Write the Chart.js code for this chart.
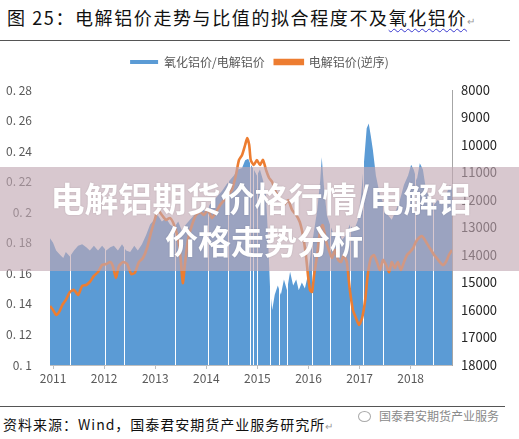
<!DOCTYPE html>
<html>
<head>
<meta charset="utf-8">
<script src="https://cdn.jsdelivr.net/npm/chart.js@4/dist/chart.umd.min.js"></script>
<style>
  body { margin: 0; background: #fff; width: 519px; height: 439px; overflow: hidden; position: relative; font-family: "Noto Sans CJK SC", sans-serif; }
  #title { position: absolute; left: 7px; top: 4px; font-size: 18px; letter-spacing: 1.6px; color: #111; white-space: nowrap; }
  #title .wavy { text-decoration: underline wavy #3a3ad0; text-decoration-thickness: 1px; text-underline-offset: 3px; }
  .mark { color: #999; font-size: 10px; letter-spacing: 0; }
  #topline { position: absolute; left: 0; top: 40px; width: 510px; height: 1px; background: #555; }
  #box { position: absolute; left: 0; top: 45px; width: 519px; height: 350px; }
  #botline { position: absolute; left: 0; top: 406px; width: 505px; height: 1px; background: #555; }
  #source { position: absolute; left: 3px; top: 414px; font-size: 14px; letter-spacing: 1px; color: #111; white-space: nowrap; }
  #logo { position: absolute; left: 358px; top: 407px; font-size: 12px; color: #8a8a8a; white-space: nowrap; }
  #logo span { display: inline-block; width: 11px; height: 9px; border: 1px solid #aaa; border-radius: 50%; margin-right: 8px; vertical-align: -1px; }
</style>
</head>
<body>
<div id="title">图 25：电解铝价走势与比值的拟合程度不及<span class="wavy">氧化铝价</span><span class="mark">↵</span></div>
<div id="topline"></div>
<div id="box"><canvas id="myChart" width="519" height="350"></canvas></div>
<div id="botline"></div>
<div id="source">资料来源：Wind，国泰君安期货产业服务研究所<span class="mark">↵</span></div>
<div id="logo"><span></span>国泰君安期货产业服务</div>
<script>
const ctx = document.getElementById('myChart').getContext('2d');

// alumina / aluminium price ratio (left axis)
const ratioDates = [2010.94, 2011.00, 2011.06, 2011.14, 2011.20, 2011.25, 2011.33, 2011.41, 2011.49, 2011.57,
  2011.65, 2011.72, 2011.80, 2011.88, 2011.96, 2012.04, 2012.12, 2012.19, 2012.27, 2012.35,
  2012.43, 2012.51, 2012.59, 2012.66, 2012.74, 2012.82, 2012.90, 2012.98, 2013.05, 2013.13,
  2013.21, 2013.29, 2013.37, 2013.45, 2013.52, 2013.60, 2013.68, 2013.76, 2013.84, 2013.92,
  2013.99, 2014.07, 2014.15, 2014.23, 2014.31, 2014.39, 2014.46, 2014.54, 2014.62, 2014.70,
  2014.76, 2014.82, 2014.87, 2014.93, 2014.99, 2015.05, 2015.11, 2015.17, 2015.21, 2015.25,
  2015.29, 2015.34, 2015.40, 2015.46, 2015.52, 2015.58, 2015.64, 2015.70, 2015.76, 2015.81,
  2015.87, 2015.93, 2015.99, 2016.05, 2016.11, 2016.17, 2016.23, 2016.26, 2016.30, 2016.36,
  2016.42, 2016.50, 2016.58, 2016.66, 2016.73, 2016.81, 2016.89, 2016.97, 2017.03, 2017.09,
  2017.14, 2017.18, 2017.22, 2017.26, 2017.32, 2017.40, 2017.48, 2017.56, 2017.63, 2017.71,
  2017.79, 2017.87, 2017.95, 2018.01, 2018.06, 2018.12, 2018.18, 2018.24, 2018.30, 2018.38,
  2018.46, 2018.53, 2018.61, 2018.69, 2018.77, 2018.81];
const ratioValues = [0.183, 0.180, 0.175, 0.172, 0.170, 0.174, 0.171, 0.175, 0.178, 0.179,
  0.177, 0.175, 0.178, 0.175, 0.178, 0.175, 0.177, 0.178, 0.175, 0.179,
  0.175, 0.174, 0.178, 0.175, 0.179, 0.185, 0.192, 0.195, 0.198, 0.194,
  0.196, 0.192, 0.190, 0.194, 0.188, 0.192, 0.195, 0.198, 0.200, 0.203,
  0.200, 0.205, 0.208, 0.211, 0.214, 0.218, 0.221, 0.224, 0.228, 0.229,
  0.234, 0.235, 0.231, 0.228, 0.224, 0.228, 0.221, 0.211, 0.182, 0.149,
  0.136, 0.146, 0.152, 0.146, 0.156, 0.149, 0.161, 0.152, 0.156, 0.149,
  0.154, 0.150, 0.159, 0.175, 0.188, 0.201, 0.221, 0.236, 0.218, 0.198,
  0.192, 0.185, 0.188, 0.182, 0.185, 0.192, 0.188, 0.195, 0.211, 0.234,
  0.255, 0.258, 0.250, 0.241, 0.224, 0.211, 0.205, 0.198, 0.195, 0.201,
  0.208, 0.218, 0.224, 0.231, 0.228, 0.221, 0.232, 0.228, 0.215, 0.208,
  0.205, 0.208, 0.205, 0.211, 0.218, 0.215];

// aluminium price, yuan/t (right axis, reversed)
const priceDates = [2010.94, 2011.00, 2011.06, 2011.12, 2011.18, 2011.25, 2011.33, 2011.41, 2011.49, 2011.57,
  2011.65, 2011.72, 2011.80, 2011.88, 2011.96, 2012.04, 2012.12, 2012.17, 2012.23, 2012.29,
  2012.37, 2012.45, 2012.53, 2012.60, 2012.68, 2012.76, 2012.84, 2012.92, 2013.00, 2013.05,
  2013.13, 2013.21, 2013.29, 2013.37, 2013.45, 2013.50, 2013.54, 2013.58, 2013.64, 2013.72,
  2013.80, 2013.88, 2013.95, 2014.03, 2014.11, 2014.19, 2014.27, 2014.35, 2014.42, 2014.50,
  2014.58, 2014.64, 2014.70, 2014.76, 2014.80, 2014.84, 2014.87, 2014.93, 2014.99, 2015.05,
  2015.11, 2015.17, 2015.23, 2015.29, 2015.36, 2015.44, 2015.52, 2015.60, 2015.68, 2015.76,
  2015.83, 2015.89, 2015.95, 2015.99, 2016.03, 2016.07, 2016.11, 2016.17, 2016.23, 2016.28,
  2016.34, 2016.40, 2016.46, 2016.52, 2016.58, 2016.64, 2016.69, 2016.75, 2016.81, 2016.87,
  2016.93, 2016.99, 2017.05, 2017.11, 2017.16, 2017.22, 2017.28, 2017.34, 2017.40, 2017.46,
  2017.52, 2017.58, 2017.63, 2017.69, 2017.75, 2017.81, 2017.87, 2017.93, 2017.99, 2018.05,
  2018.10, 2018.16, 2018.22, 2018.28, 2018.34, 2018.40, 2018.46, 2018.51, 2018.57, 2018.63,
  2018.69, 2018.75, 2018.81];
const priceValues = [15855, 16000, 16180, 16070, 15820, 15635, 15345, 15270, 15455, 15125,
  15090, 14980, 14760, 14620, 14365, 14330, 14255, 14400, 14835, 14400,
  14255, 14330, 14690, 14650, 14255, 14110, 13745, 13165, 12655, 12365,
  12545, 12725, 12655, 12910, 13455, 14180, 15020, 14365, 13455, 12910,
  12545, 12435, 12545, 12365, 12655, 12435, 12180, 12000, 11820, 11635,
  11090, 10545, 10365, 10000, 9745, 10000, 10545, 10727, 10545, 10727,
  10545, 10910, 11200, 11345, 11710, 11925, 12180, 12000, 12365, 12545,
  12800, 13270, 14000, 14730, 15270, 15345, 14730, 14000, 13090, 12910,
  13455, 13820, 14110, 13820, 14180, 14255, 14000, 14255, 15270, 16000,
  16290, 16545, 16290, 15635, 14730, 14110, 14000, 14255, 14545, 14180,
  14365, 14620, 14255, 14475, 14255, 14545, 14255, 14000, 13890, 13745,
  13530, 13380, 13310, 13455, 13640, 13820, 14000, 14110, 14255, 14365,
  14255, 14000, 13820];

// dates with no ratio value (white gaps in the area)
const holidayGaps = [2011.33, 2012.02, 2012.39, 2013.39, 2014.03, 2014.42, 2014.86, 2014.91, 2014.99,
  2015.25, 2015.42, 2015.58, 2016.07, 2016.42, 2016.81, 2017.07, 2017.46, 2018.08, 2018.44];

const yearTicks = [2011, 2012, 2013, 2014, 2015, 2016, 2017, 2018];

const toPoints = (xs, ys) => xs.map((x, i) => ({ x: x, y: ys[i] }));

// white gap lines drawn right after the area, under the price line
const gapLines = {
  id: 'gapLines',
  afterDatasetDraw(chart, args) {
    if (args.index !== 0) return;
    const c = chart.ctx, a = chart.chartArea, sx = chart.scales.x;
    c.save();
    c.strokeStyle = '#ffffff';
    c.lineWidth = 1;
    holidayGaps.forEach(g => {
      const px = Math.round(sx.getPixelForValue(g)) + 0.5;
      c.beginPath();
      c.moveTo(px, a.top);
      c.lineTo(px, a.bottom);
      c.stroke();
    });
    c.restore();
  }
};

// semi transparent banner over the chart
const banner = {
  id: 'banner',
  afterDraw(chart) {
    const c = chart.ctx;
    c.save();
    c.fillStyle = 'rgba(193,168,179,0.63)';
    c.fillRect(0, 122, chart.width, 104);
    c.fillStyle = '#ffffff';
    c.textAlign = 'center';
    c.textBaseline = 'middle';
    c.shadowColor = 'rgba(0,0,0,0.15)';
    c.shadowBlur = 2;
    c.font = 'bold 34px "Noto Sans CJK SC"';
    c.fillText('电解铝期货价格行情/电解铝', 261, 154);
    c.font = 'bold 33px "Noto Sans CJK SC"';
    c.fillText('价格走势分析', 264, 196);
    c.restore();
  }
};

// fixed legend height so the plot starts at the right place
const legendSpace = {
  id: 'legendSpace',
  beforeInit(chart) {
    const fit = chart.legend.fit;
    chart.legend.fit = function () {
      fit.call(this);
      this.height = 44;
    };
  }
};

Chart.defaults.font.family = '"Noto Sans CJK SC", sans-serif';
const myChart = new Chart(ctx, {
  type: 'line',
  data: {
    datasets: [
      {
        label: '氧化铝价/电解铝价',
        data: toPoints(ratioDates, ratioValues),
        yAxisID: 'y',
        backgroundColor: '#5b9bd5',
        borderColor: '#5b9bd5',
        borderWidth: 0,
        fill: 'start',
        tension: 0,
        order: 2
      },
      {
        label: '电解铝价(逆序)',
        data: toPoints(priceDates, priceValues),
        yAxisID: 'y1',
        borderColor: '#ed7d31',
        backgroundColor: '#ed7d31',
        borderWidth: 2.6,
        fill: false,
        tension: 0.2,
        order: 1
      }
    ]
  },
  plugins: [gapLines, banner, legendSpace],
  options: {
    responsive: false,
    animation: false,
    layout: { padding: { top: 1, left: 0, right: 0, bottom: 0 } },
    elements: { point: { radius: 0 } },
    plugins: {
      tooltip: { enabled: false },
      legend: {
        position: 'top',
        labels: {
          boxWidth: 28,
          boxHeight: 4,
          padding: 10,
          color: '#595959',
          font: { size: 12 },
          sort: (a, b) => a.datasetIndex - b.datasetIndex
        }
      }
    },
    scales: {
      x: {
        type: 'linear',
        min: 2010.94,
        max: 2018.81,
        afterBuildTicks: s => { s.ticks = yearTicks.map(v => ({ value: v })); },
        afterFit: s => { s.height = 30; },
        grid: { drawOnChartArea: false, tickLength: 4, color: '#bfbfbf' },
        border: { color: '#bfbfbf' },
        ticks: {
          color: '#595959',
          font: { size: 12 },
          padding: 2,
          maxRotation: 0,
          callback: v => String(v)
        }
      },
      y: {
        position: 'left',
        min: 0.1,
        max: 0.28,
        afterFit: s => { s.width = 50; },
        grid: { display: false },
        border: { display: false },
        ticks: {
          stepSize: 0.02,
          color: '#595959',
          font: { size: 12 },
          padding: 10,
          callback: v => String(Number(v.toFixed(2))).replace('.', '. ')
        }
      },
      y1: {
        position: 'right',
        reverse: true,
        min: 8000,
        max: 18000,
        afterFit: s => { s.width = 67; },
        grid: { drawOnChartArea: false, tickLength: 0, color: '#a6a6a6' },
        border: { color: '#a6a6a6' },
        ticks: {
          stepSize: 1000,
          color: '#262626',
          font: { size: 13 },
          padding: 9,
          callback: v => String(v)
        }
      }
    }
  }
});
</script>
</body>
</html>
